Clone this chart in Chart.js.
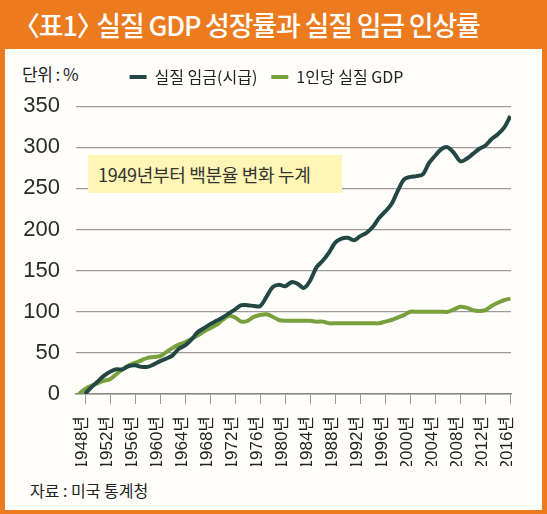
<!DOCTYPE html>
<html>
<head>
<meta charset="utf-8">
<script src="https://cdn.jsdelivr.net/npm/chart.js@4"></script>
<style>
  body { margin: 0; width: 547px; height: 514px; background: #ec7a1e; overflow: hidden; font-family: 'Noto Sans CJK KR', sans-serif; }
  #title { position: absolute; left: 26px; top: 0; height: 49px; line-height: 49px; color: #fff; font-size: 27px; font-weight: 500; letter-spacing: -1.2px; white-space: nowrap; }
  #title .bl { margin-left: -13px; }
  #title .br { margin-right: -11px; }
  #panel { position: absolute; left: 5px; top: 49px; width: 537px; height: 461px; background: #fffefb; }
  #unit { position: absolute; left: 22px; top: 61px; font-size: 17px; color: #222; letter-spacing: -0.5px; }
  #note { position: absolute; left: 88px; top: 155px; width: 254px; height: 38px; background: #fff6b5; color: #333; font-size: 18px; line-height: 38px; padding-left: 10px; box-sizing: border-box; letter-spacing: -0.3px; white-space: nowrap; }
  #source { position: absolute; left: 30px; top: 478px; font-size: 16px; color: #222; }
  canvas { position: absolute; left: 0; top: 55px; }
</style>
</head>
<body>
<div id="title"><span class="bl">〈</span>표1<span class="br">〉</span> 실질 GDP 성장률과 실질 임금 인상률</div>
<div id="panel"></div>
<div id="unit">단위 : %</div>
<canvas id="chart" width="547" height="411"></canvas>
<div id="note">1949년부터 백분율 변화 누계</div>
<div id="source">자료 : 미국 통계청</div>
<script>
// 연도 (1947 ~ 2016)
const years = [1947, 1948, 1949, 1950, 1951, 1952, 1953, 1954, 1955, 1956,
  1957, 1958, 1959, 1960, 1961, 1962, 1963, 1964, 1965, 1966,
  1967, 1968, 1969, 1970, 1971, 1972, 1973, 1974, 1975, 1976,
  1977, 1978, 1979, 1980, 1981, 1982, 1983, 1984, 1985, 1986,
  1987, 1988, 1989, 1990, 1991, 1992, 1993, 1994, 1995, 1996,
  1997, 1998, 1999, 2000, 2001, 2002, 2003, 2004, 2005, 2006,
  2007, 2008, 2009, 2010, 2011, 2012, 2013, 2014, 2015, 2016];

// 실질 임금(시급)
const wageValues = [null, 0, 8, 15, 22, 27, 30, 30, 34, 35,
  33, 33, 36, 40, 43, 47, 55, 59, 66, 75,
  80, 85, 89, 93, 98, 103, 108, 108, 107, 107,
  118, 130, 133, 131, 136, 134, 129, 138, 154, 162,
  172, 184, 189, 190, 187, 192, 196, 203, 214, 222,
  231, 247, 261, 264, 265, 267, 281, 290, 298, 300,
  293, 283, 286, 292, 298, 302, 310, 316, 324, 338];

// 1인당 실질 GDP
const gdpValues = [0, 6, 10, 13, 16, 18, 24, 30, 35, 38,
  41, 44, 45, 46, 51, 56, 60, 63, 67, 71,
  76, 80, 84, 90, 95, 93, 88, 89, 94, 96,
  97, 94, 90, 89, 89, 89, 89, 89, 88, 88,
  86, 86, 86, 86, 86, 86, 86, 86, 86, 88,
  90, 93, 96, 100, 100, 100, 100, 100, 100, 100,
  103, 106, 105, 102, 101, 102, 107, 111, 114, 116];

const tickYears = [1948, 1952, 1956, 1960, 1964, 1968, 1972, 1976, 1980, 1984,
  1988, 1992, 1996, 2000, 2004, 2008, 2012, 2016];

const seriesNames = ['실질 임금(시급)', '1인당 실질 GDP'];

function toPoints(values) {
    return years.map((y, i) => ({ x: y, y: values[i] }));
}

const numFont = "'Liberation Sans Narrow', 'Arial Narrow', 'Liberation Sans', 'Noto Sans CJK KR', sans-serif";

const ctx = document.getElementById('chart').getContext('2d');
const chart = new Chart(ctx, {
    type: 'line',
    data: {
        datasets: [{
            label: seriesNames[0],
            data: toPoints(wageValues),
            borderColor: '#234843',
            backgroundColor: '#234843',
            borderWidth: 4,
            pointRadius: 0,
            tension: 0.35,
        }, {
            label: seriesNames[1],
            data: toPoints(gdpValues),
            borderColor: '#78a03c',
            backgroundColor: '#78a03c',
            borderWidth: 4,
            pointRadius: 0,
            tension: 0.35,
        }]
    },
    options: {
        responsive: false,
        animation: false,
        layout: {
            padding: { left: 22, right: 36, top: 0, bottom: 0 }
        },
        scales: {
            x: {
                type: 'linear',
                min: 1946.56,
                max: 2016.1,
                afterFit: (scale) => { scale.height = 72; },
                afterBuildTicks: (scale) => {
                    scale.ticks = tickYears.map(v => ({ value: v }));
                },
                grid: {
                    drawOnChartArea: false,
                    drawTicks: true,
                    tickLength: 10,
                    color: '#999',
                },
                border: { display: true, color: '#888', width: 1.5 },
                ticks: {
                    minRotation: 90,
                    maxRotation: 90,
                    autoSkip: false,
                    padding: 12,
                    labelOffset: -3,
                    color: '#222',
                    font: { family: numFont, size: 17 },
                    callback: (v) => v + '년',
                }
            },
            y: {
                min: 0,
                max: 350,
                afterFit: (scale) => { scale.width = 54; },
                grid: {
                    drawTicks: false,
                    color: '#9a9a9a',
                    lineWidth: 1.3,
                },
                border: { display: false },
                ticks: {
                    stepSize: 50,
                    padding: 16,
                    color: '#2a2a2a',
                    font: { family: numFont, size: 22 },
                }
            }
        },
        plugins: {
            legend: {
                display: true,
                position: 'top',
                labels: {
                    usePointStyle: true,
                    pointStyle: 'line',
                    pointStyleWidth: 17,
                    padding: 14,
                    color: '#222',
                    font: { family: "'Noto Sans CJK KR', sans-serif", size: 16 },
                }
            },
            subtitle: {
                display: true,
                text: ' ',
                weight: 500,
                font: { size: 1 },
                padding: { top: 0, bottom: 10 },
            },
            tooltip: { enabled: false }
        }
    }
});
</script>
</body>
</html>
